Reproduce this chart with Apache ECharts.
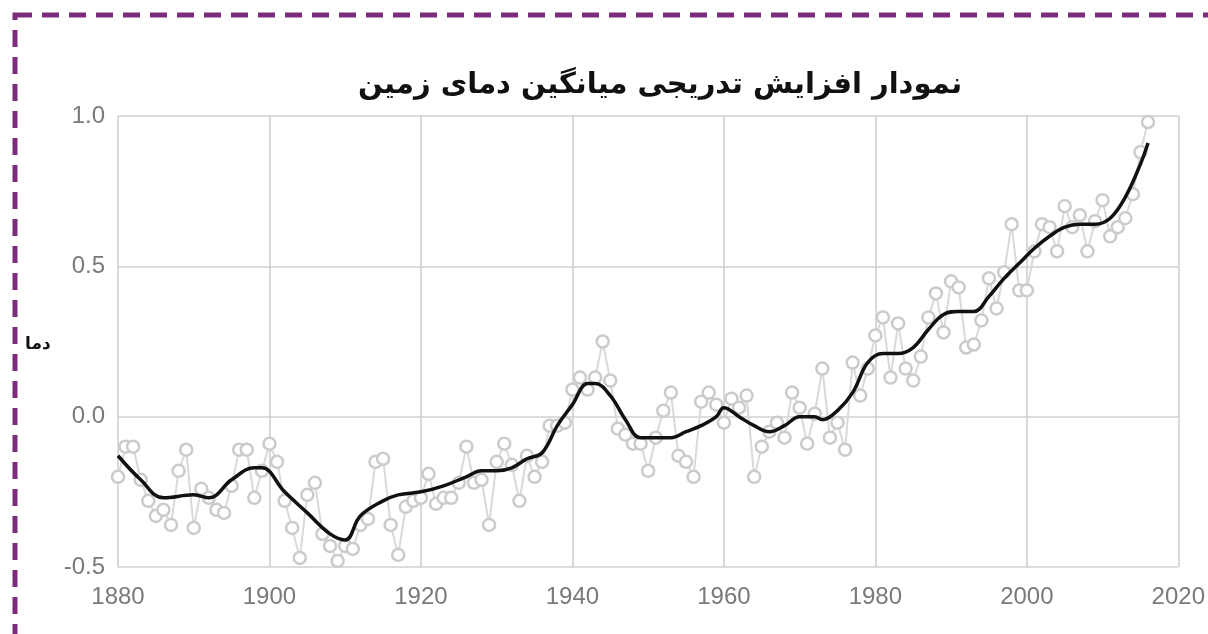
<!DOCTYPE html>
<html>
<head>
<meta charset="utf-8">
<title>نمودار افزایش تدریجی میانگین دمای زمین</title>
<script src="https://cdn.jsdelivr.net/npm/echarts@6/dist/echarts.min.js"></script>
<style>
  html, body { margin: 0; padding: 0; background: #fff; }
  #main { width: 1208px; height: 634px; }
</style>
</head>
<body>
<div id="main"></div>
<script>
// annual mean anomaly (grey circles)
var years = [];
for (var y = 1880; y <= 2016; y++) years.push(y);

var annual = [
  -0.20, -0.10, -0.10, -0.21, -0.28, -0.33, -0.31, -0.36, -0.18, -0.11,
  -0.37, -0.24, -0.27, -0.31, -0.32, -0.23, -0.11, -0.11, -0.27, -0.18,
  -0.09, -0.15, -0.28, -0.37, -0.47, -0.26, -0.22, -0.39, -0.43, -0.48,
  -0.43, -0.44, -0.36, -0.34, -0.15, -0.14, -0.36, -0.46, -0.30, -0.28,
  -0.27, -0.19, -0.29, -0.27, -0.27, -0.22, -0.10, -0.22, -0.21, -0.36,
  -0.15, -0.09, -0.16, -0.28, -0.13, -0.20, -0.15, -0.03, -0.03, -0.02,
   0.09,  0.13,  0.09,  0.13,  0.25,  0.12, -0.04, -0.06, -0.09, -0.09,
  -0.18, -0.07,  0.02,  0.08, -0.13, -0.15, -0.20,  0.05,  0.08,  0.04,
  -0.02,  0.06,  0.03,  0.07, -0.20, -0.10, -0.05, -0.02, -0.07,  0.08,
   0.03, -0.09,  0.01,  0.16, -0.07, -0.02, -0.11,  0.18,  0.07,  0.16,
   0.27,  0.33,  0.13,  0.31,  0.16,  0.12,  0.20,  0.33,  0.41,  0.28,
   0.45,  0.43,  0.23,  0.24,  0.32,  0.46,  0.36,  0.48,  0.64,  0.42,
   0.42,  0.55,  0.64,  0.63,  0.55,  0.70,  0.63,  0.67,  0.55,  0.65,
   0.72,  0.60,  0.63,  0.66,  0.74,  0.88,  0.98
];

// smoothed curve (black), read every couple of years
var smoothYears = [1880, 1883, 1886, 1890, 1892, 1895, 1898, 1899, 1902, 1905,
  1908, 1910, 1912, 1915, 1917, 1920, 1923, 1926, 1928, 1930, 1932, 1934,
  1936, 1938, 1940, 1942, 1943, 1945, 1947, 1949, 1951, 1953, 1955, 1957,
  1959, 1960, 1962, 1964, 1966, 1968, 1970, 1972, 1973, 1975, 1977, 1979,
  1981, 1983, 1985, 1987, 1989, 1991, 1993, 1995, 1997, 1999, 2001, 2003,
  2005, 2007, 2009, 2011, 2013, 2015, 2016];
var smoothed = [-0.13, -0.21, -0.27, -0.26, -0.27, -0.21, -0.17, -0.17, -0.25, -0.32,
  -0.39, -0.41, -0.33, -0.28, -0.26, -0.25, -0.23, -0.20, -0.18, -0.18, -0.17, -0.14,
  -0.12, -0.03, 0.04, 0.11, 0.11, 0.07, -0.01, -0.07, -0.07, -0.07, -0.05, -0.03,
  0.00, 0.03, 0.00, -0.03, -0.05, -0.03, 0.00, 0.00, -0.01, 0.02, 0.08, 0.18,
  0.21, 0.21, 0.23, 0.29, 0.34, 0.35, 0.35, 0.40, 0.46, 0.51, 0.56, 0.60,
  0.63, 0.64, 0.64, 0.66, 0.73, 0.84, 0.91];

var titleText = 'نمودار افزایش تدریجی میانگین دمای زمین';
var yName = 'دما';

var chart = echarts.init(document.getElementById('main'));

var annualPts = years.map(function (yr, i) { return [yr, annual[i]]; });
var smoothPts = smoothYears.map(function (yr, i) { return [yr, smoothed[i]]; });

chart.setOption({
  animation: false,
  backgroundColor: '#ffffff',
  title: {
    text: titleText,
    left: 655,
    top: 66,
    textAlign: 'center',
    textStyle: {
      fontFamily: 'DejaVu Sans',
      fontWeight: 'bold',
      fontSize: 29,
      color: '#111'
    }
  },
  grid: { left: 118, right: 28, top: 116, bottom: 67 },
  xAxis: {
    type: 'value',
    min: 1880,
    max: 2020,
    interval: 20,
    axisLine: { show: false },
    axisTick: { show: false },
    axisLabel: {
      margin: 18,
      fontSize: 24,
      color: '#7a7a7a',
      fontFamily: 'Liberation Sans',
      formatter: function (v) { return String(v); }
    },
    splitLine: { show: true, lineStyle: { color: '#cdcdcd', width: 1.5 } }
  },
  yAxis: {
    type: 'value',
    min: -0.5,
    max: 1.0,
    interval: 0.5,
    axisLine: { show: false },
    axisTick: { show: false },
    axisLabel: {
      margin: 13,
      fontSize: 24,
      color: '#7a7a7a',
      fontFamily: 'Liberation Sans',
      formatter: function (v) { return v.toFixed(1); }
    },
    splitLine: { show: true, lineStyle: { color: '#dcdcdc', width: 2 } }
  },
  graphic: [
    {
      type: 'rect',
      silent: true,
      shape: { x: 15, y: 15, width: 1260, height: 700 },
      style: { fill: 'none', stroke: '#7b2c7c', lineWidth: 5, lineDash: [17, 10] }
    },
    {
      type: 'text',
      left: 25,
      top: 336,
      style: {
        text: yName,
        font: 'bold 17px "DejaVu Sans"',
        fill: '#111'
      }
    }
  ],
  series: [
    {
      name: 'annual',
      type: 'line',
      data: annualPts,
      symbol: 'circle',
      symbolSize: 12,
      showAllSymbol: true,
      lineStyle: { color: '#d9d9d9', width: 2 },
      itemStyle: { color: '#ffffff', borderColor: '#cbcbcb', borderWidth: 2.5 },
      z: 2
    },
    {
      name: 'smoothed',
      type: 'line',
      data: smoothPts,
      smooth: 0.4,
      symbol: 'none',
      lineStyle: { color: '#111', width: 3.5 },
      z: 3
    }
  ]
});
</script>
</body>
</html>
